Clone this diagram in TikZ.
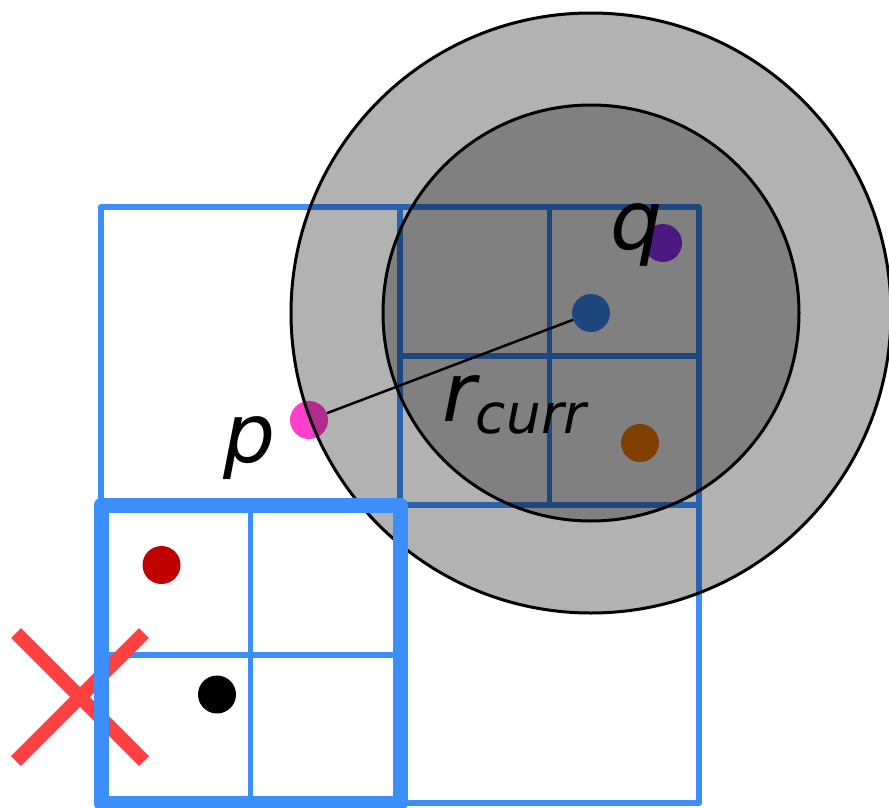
\documentclass[tikz,border=0pt]{standalone}
\usepackage{fontspec}
\setmainfont{DejaVu Sans}
\usepackage{xcolor}
\usepackage{tikz}
\usetikzlibrary{positioning}

\definecolor{cellblue}{RGB}{60,143,250}
\definecolor{crossred}{RGB}{255,64,64}
\definecolor{ptred}{RGB}{192,0,0}
\definecolor{ptpink}{RGB}{255,64,204}
\definecolor{ptpurple}{RGB}{150,52,254}
\definecolor{ptorange}{RGB}{255,127,0}

\begin{document}
\begin{tikzpicture}[x=1pt, y=-1pt, every node/.style={font=\fontsize{82}{90}\selectfont\itshape, inner sep=0pt},
  pnt/.style={circle, minimum size=38pt},
  cell/.style={draw=cellblue, line width=5.5pt, line join=round},
  searchdisc/.style={draw=black, line width=3pt, fill=black, fill opacity=0.3, draw opacity=1}]
\useasboundingbox (0,0) rectangle (889,808);

% quadtree cells
\draw[cell] (101,207) rectangle (699,803);
\draw[cell] (400,207) -- (400,803);
\draw[cell] (101,505) -- (699,505);
\draw[cell] (549.5,207) -- (549.5,505);
\draw[cell] (400,356) -- (699,356);
\draw[cell] (250.5,505) -- (250.5,803);
\draw[cell] (101,655) -- (400,655);

% pruned cell
\draw[crossred, line width=14pt] (16,633) -- (144,761) (16,761) -- (144,633);

% points
\node[pnt, fill=ptpink] (p) at (309,420) {};
\node[pnt, fill=cellblue] (ctr) at (591,313) {};
\node[pnt, fill=ptpurple] (q) at (663,243) {};
\node[pnt, fill=ptorange] (o) at (640,443) {};
\node[pnt, fill=ptred] (red) at (161.5,565) {};
\node[pnt, fill=black] (blk) at (217,694.5) {};

\draw[line width=2.5pt] (p) -- (ctr);

% search radii
\draw[searchdisc] (ctr.center) circle[radius=300pt];
\draw[searchdisc, fill opacity=0.28] (ctr.center) circle[radius=208pt];

\draw[cellblue, line width=15pt, line join=round] (101,505) rectangle (400,803);

\node[anchor=base] (plabel) at (250,462) {p};
\node[anchor=base] (qlabel) at (637,249) {q};
\node[anchor=base west] (rlabel) at (442,421) {r\raisebox{-12pt}{\fontsize{55}{60}\selectfont curr}};
\end{tikzpicture}
\end{document}
